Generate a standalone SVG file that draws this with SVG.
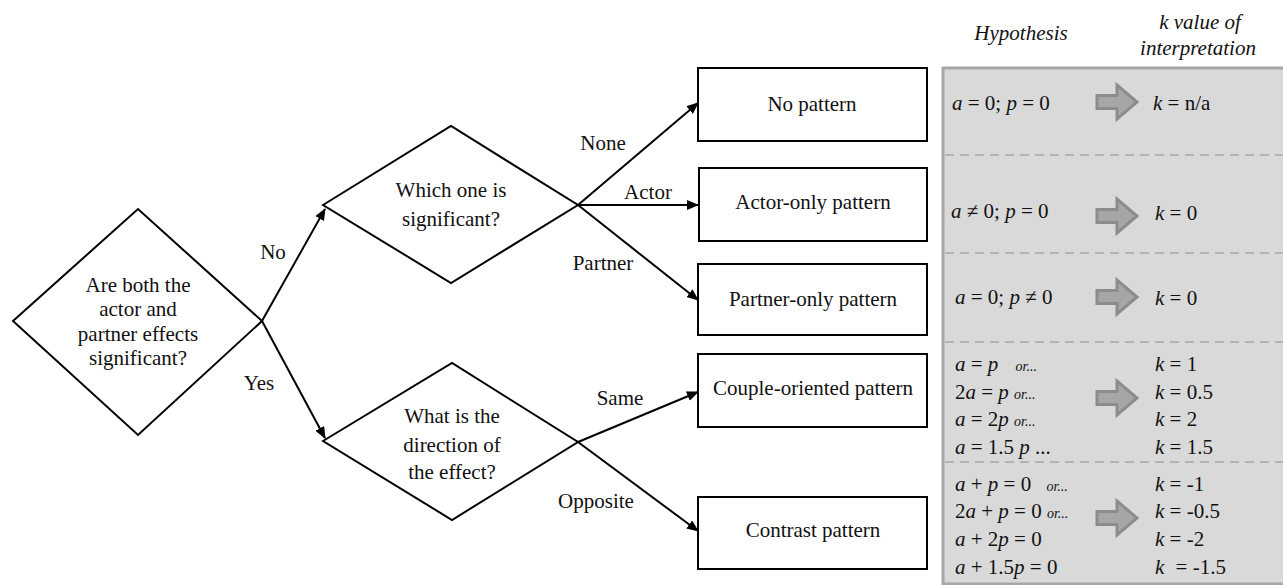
<svg xmlns="http://www.w3.org/2000/svg" width="1283" height="585" viewBox="0 0 1283 585">
<style>
text{font-family:"Liberation Serif","Times New Roman",serif;font-size:21px;fill:#111;}
.c{text-anchor:middle;}
.i{font-style:italic;}
.s{font-style:italic;font-size:14px;}
.shape{fill:#fff;stroke:#000;stroke-width:2;}
.conn{stroke:#000;stroke-width:2;fill:none;marker-end:url(#ah);}
.blk{fill:#a6a6a6;stroke:#8c8c8c;stroke-width:3;stroke-linejoin:miter;}
.dash{stroke:#b3b3b3;stroke-width:2;stroke-dasharray:9,6;}
</style>
<defs>
<marker id="ah" viewBox="0 0 12 10" refX="11" refY="5" markerWidth="12" markerHeight="10" markerUnits="userSpaceOnUse" orient="auto">
<path d="M0,0 L12,5 L0,10 Z" fill="#000"/>
</marker>
<path id="blockarrow" d="M-20,-6.5 L0,-6.5 L0,-17 L20,0 L0,17 L0,6.5 L-20,6.5 Z"/>
</defs>

<g id="connectors">
<line class="conn" x1="262" y1="321" x2="325" y2="209"/>
<line class="conn" x1="262" y1="321" x2="325" y2="438"/>
<line class="conn" x1="578" y1="205" x2="698" y2="103"/>
<line class="conn" x1="578" y1="205" x2="698" y2="205"/>
<line class="conn" x1="578" y1="205" x2="698" y2="300"/>
<line class="conn" x1="578" y1="442" x2="698" y2="392"/>
<line class="conn" x1="578" y1="442" x2="698" y2="531"/>
<text x="273" y="259" class="c">No</text>
<text x="259" y="390" class="c">Yes</text>
<text x="603" y="150" class="c">None</text>
<text x="648" y="199" class="c">Actor</text>
<text x="603" y="270" class="c">Partner</text>
<text x="620" y="405" class="c">Same</text>
<text x="596" y="508" class="c">Opposite</text>
</g>

<g id="d1">
<polygon class="shape" points="13,321 138,209 262,321 138,435"/>
<text x="138" y="292" class="c">Are both the</text>
<text x="138" y="316" class="c">actor and</text>
<text x="138" y="341" class="c">partner effects</text>
<text x="138" y="365" class="c">significant?</text>
</g>

<g id="d2">
<polygon class="shape" points="323,205 451,126 578,205 451,283"/>
<text x="451" y="197" class="c">Which one is</text>
<text x="451" y="226" class="c">significant?</text>
</g>

<g id="d3">
<polygon class="shape" points="323,441 452,363 578,442 452,520"/>
<text x="452" y="423" class="c">What is the</text>
<text x="452" y="452" class="c">direction of</text>
<text x="452" y="479" class="c">the effect?</text>
</g>

<g id="b1">
<rect class="shape" x="698" y="68" width="229" height="73"/>
<text x="812" y="111" class="c">No pattern</text>
</g>
<g id="b2">
<rect class="shape" x="699" y="168" width="228" height="73"/>
<text x="813" y="209" class="c">Actor-only pattern</text>
</g>
<g id="b3">
<rect class="shape" x="698" y="264" width="229" height="71"/>
<text x="813" y="306" class="c">Partner-only pattern</text>
</g>
<g id="b4">
<rect class="shape" x="698" y="354" width="229" height="73"/>
<text x="813" y="395" class="c">Couple-oriented pattern</text>
</g>
<g id="b5">
<rect class="shape" x="698" y="497" width="229" height="72"/>
<text x="813" y="537" class="c">Contrast pattern</text>
</g>

<g id="panel">
<text x="1021" y="40" class="c i">Hypothesis</text>
<text x="1200" y="29" class="c i">k value of</text>
<text x="1198" y="55" class="c i">interpretation</text>
<rect x="943" y="68" width="342" height="516" fill="#d9d9d9" stroke="#a6a6a6" stroke-width="3"/>
<line class="dash" x1="945" y1="155" x2="1283" y2="155"/>
<line class="dash" x1="945" y1="253" x2="1283" y2="253"/>
<line class="dash" x1="945" y1="342" x2="1283" y2="342"/>
<line class="dash" x1="945" y1="462" x2="1283" y2="462"/>

<use href="#blockarrow" class="blk" transform="translate(1117,102)"/>
<use href="#blockarrow" class="blk" transform="translate(1117,216)"/>
<use href="#blockarrow" class="blk" transform="translate(1117,297)"/>
<use href="#blockarrow" class="blk" transform="translate(1117,398)"/>
<use href="#blockarrow" class="blk" transform="translate(1117,518)"/>

<text x="952" y="110"><tspan class="i">a</tspan> = 0; <tspan class="i">p</tspan> = 0</text>
<text x="1153" y="110"><tspan class="i">k</tspan> = n/a</text>

<text x="951" y="218"><tspan class="i">a</tspan> ≠ 0; <tspan class="i">p</tspan> = 0</text>
<text x="1155" y="220"><tspan class="i">k</tspan> = 0</text>

<text x="955" y="304"><tspan class="i">a</tspan> = 0; <tspan class="i">p</tspan> ≠ 0</text>
<text x="1155" y="305"><tspan class="i">k</tspan> = 0</text>

<text x="955" y="371"><tspan class="i">a</tspan> = <tspan class="i">p</tspan> <tspan class="s" dx="12">or...</tspan></text>
<text x="955" y="399">2<tspan class="i">a</tspan> = <tspan class="i">p</tspan> <tspan class="s">or...</tspan></text>
<text x="955" y="426"><tspan class="i">a</tspan> = 2<tspan class="i">p</tspan> <tspan class="s">or...</tspan></text>
<text x="955" y="454"><tspan class="i">a</tspan> = 1.5 <tspan class="i">p</tspan> ...</text>
<text x="1155" y="371"><tspan class="i">k</tspan> = 1</text>
<text x="1155" y="399"><tspan class="i">k</tspan> = 0.5</text>
<text x="1155" y="426"><tspan class="i">k</tspan> = 2</text>
<text x="1155" y="454"><tspan class="i">k</tspan> = 1.5</text>

<text x="955" y="491"><tspan class="i">a</tspan> + <tspan class="i">p</tspan> = 0 <tspan class="s" dx="10">or...</tspan></text>
<text x="955" y="518">2<tspan class="i">a</tspan> + <tspan class="i">p</tspan> = 0 <tspan class="s">or...</tspan></text>
<text x="955" y="546"><tspan class="i">a</tspan> + 2<tspan class="i">p</tspan> = 0</text>
<text x="955" y="574"><tspan class="i">a</tspan> + 1.5<tspan class="i">p</tspan> = 0</text>
<text x="1155" y="491"><tspan class="i">k</tspan> = -1</text>
<text x="1155" y="518"><tspan class="i">k</tspan> = -0.5</text>
<text x="1155" y="546"><tspan class="i">k</tspan> = -2</text>
<text x="1155" y="574"><tspan class="i">k</tspan> <tspan dx="6">= -1.5</tspan></text>
</g>
</svg>
